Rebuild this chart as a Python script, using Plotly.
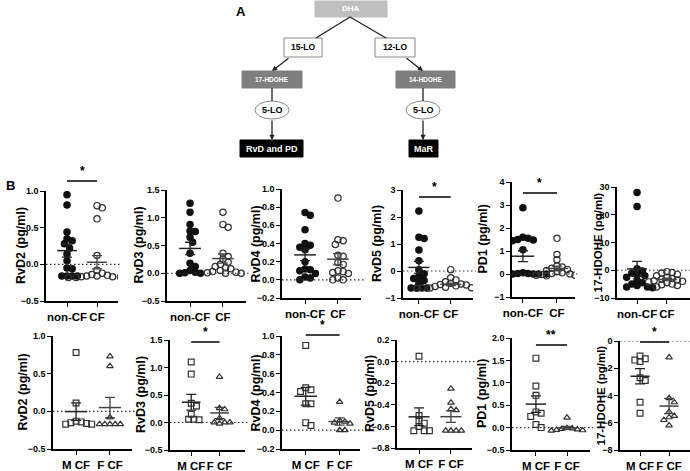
import plotly.graph_objects as go
import numpy as np

W, H = 690, 471

# ---------------- data ----------------
top_groups = ["non-CF", "CF"]
bottom_groups = ["M CF", "F CF"]

rvd2_noncf = [0.95, 0.81, 0.44, 0.35, 0.32, 0.28, 0.22, 0.14, 0.05, -0.05, -0.06, -0.16, -0.16, -0.16, -0.16]
rvd2_cf = [0.80, 0.77, 0.62, 0.12, -0.08, -0.12, -0.14, -0.15, -0.16, -0.16, -0.17, -0.17, -0.17, -0.18, -0.18, -0.18]
rvd3_noncf = [1.26, 1.10, 0.88, 0.76, 0.75, 0.65, 0.56, 0.36, 0.18, 0.12, 0.05, 0.01, 0.00, 0.00, 0.02]
rvd3_cf = [1.10, 0.88, 0.83, 0.36, 0.30, 0.25, 0.20, 0.16, 0.12, 0.10, 0.08, 0.05, 0.03, 0.02, 0.01, 0.00, 0.00]
rvd4_noncf = [0.74, 0.71, 0.55, 0.40, 0.38, 0.36, 0.33, 0.20, 0.12, 0.11, 0.10, 0.07, 0.03, 0.02, 0.00]
rvd4_cf = [0.90, 0.44, 0.43, 0.39, 0.27, 0.26, 0.19, 0.17, 0.10, 0.09, 0.08, 0.07, 0.02, 0.00, 0.00]
rvd5_noncf = [2.22, 1.25, 1.20, 0.78, 0.38, 0.05, -0.10, -0.20, -0.28, -0.35, -0.45, -0.62, -0.63, -0.63, -0.63]
rvd5_cf = [0.05, -0.25, -0.33, -0.40, -0.45, -0.48, -0.50, -0.52, -0.55, -0.57, -0.60, -0.62, -0.63, -0.63, -0.63, -0.63, -0.64]
pd1_noncf = [2.88, 1.60, 1.55, 1.50, 1.48, 1.45, 1.05, 0.05, 0.02, 0.00, 0.00, 0.00, 0.00, 0.00, 0.02]
pd1_cf = [1.55, 0.85, 0.62, 0.35, 0.30, 0.25, 0.20, 0.15, 0.10, 0.05, 0.02, 0.00, -0.02, -0.05, -0.05, -0.08, -0.10]
hdohe_noncf = [28.0, 23.0, 0.5, -0.3, -1.0, -1.5, -2.0, -2.5, -3.5, -4.5, -5.0, -5.5, -6.0, -6.0, -6.3]
hdohe_cf = [-0.5, -0.8, -1.0, -1.5, -2.0, -2.5, -3.0, -3.2, -3.5, -3.8, -4.0, -4.2, -4.5, -5.0, -5.2, -5.5, -6.0]

rvd2_m = [0.78, 0.11, -0.13, -0.14, -0.15, -0.16, -0.17, -0.17]
rvd2_f = [0.73, 0.60, -0.08, -0.17, -0.17, -0.17, -0.17, -0.17]
rvd3_m = [1.10, 0.88, 0.35, 0.30, 0.15, 0.06, 0.05, 0.06]
rvd3_f = [0.83, 0.26, 0.24, 0.08, 0.00, 0.00, -0.02, 0.00]
rvd4_m = [0.90, 0.45, 0.43, 0.41, 0.28, 0.28, 0.08, 0.05]
rvd4_f = [0.30, 0.10, 0.09, 0.08, 0.07, 0.00, 0.00]
rvd5_m = [0.05, -0.50, -0.55, -0.57, -0.60, -0.64, -0.64, -0.64]
rvd5_f = [-0.25, -0.38, -0.44, -0.45, -0.64, -0.64, -0.64, -0.64]
pd1_m = [1.55, 0.93, 0.72, 0.35, 0.32, 0.25, 0.07, 0.00]
pd1_f = [0.22, -0.01, -0.02, -0.03, -0.04, -0.05, -0.06, -0.07]
hdohe_m = [-1.1, -1.3, -1.4, -1.5, -2.7, -2.9, -4.5, -5.3]
hdohe_f = [-1.2, -4.2, -4.5, -5.2, -5.5, -5.6, -5.8, -6.2]

y_titles = ["RvD2 (pg/ml)", "RvD3 (pg/ml)", "RvD4 (pg/ml)", "RvD5 (pg/ml)", "PD1 (pg/ml)", "17-HDOHE (pg/ml)"]
top_sig = {0: "*", 3: "*", 4: "*"}
bottom_sig = {1: "*", 2: "*", 4: "**", 5: "*"}

# ---------------- layout geometry (pixels) ----------------
# left, right, top, bottom, xmin, xmax, ymin, ymax, dtick, fmt, title_x, sig_y
top_geo = [
    (46, 118, 191, 301, -0.7, 1.7, -0.5, 1.0, 0.5, ".1f", 21, 181),
    (167, 246, 190, 301, -0.7, 1.7, -0.5, 1.5, 0.5, ".1f", 138, None),
    (282, 361, 189, 298, -0.7, 1.7, -0.2, 1.0, 0.2, ".1f", 255, None),
    (403, 473, 190, 298, -0.5, 1.7, -1, 3, 1, "d", 377, 197),
    (512, 575, 182, 297, -0.32, 1.53, -1, 4, 1, "d", 482, 193),
    (617, 690, 187, 298, -0.67, 1.77, -10, 30, 10, "d", 597, None),
]
bottom_geo = [
    (53, 132, 336, 449, -0.68, 1.65, -0.5, 1.0, 0.5, ".1f", 22, None),
    (170, 245, 340, 450, -0.75, 1.9, -0.5, 1.5, 0.5, ".1f", 141, 342),
    (282, 360, 336, 449, -0.7, 1.6, -0.2, 1.0, 0.2, ".1f", 255, 335),
    (397, 472, 340, 448, -0.69, 1.66, -0.8, 0.2, 0.2, ".1f", 370, None),
    (512, 590, 338, 450, -0.77, 1.74, -0.5, 2.0, 0.5, ".1f", 482, 345),
    (620, 690, 341, 450, -0.69, 1.72, -8, 0, 2, "d", 600, 342),
]

top_data = [(rvd2_noncf, rvd2_cf), (rvd3_noncf, rvd3_cf), (rvd4_noncf, rvd4_cf),
            (rvd5_noncf, rvd5_cf), (pd1_noncf, pd1_cf), (hdohe_noncf, hdohe_cf)]
bottom_data = [(rvd2_m, rvd2_f), (rvd3_m, rvd3_f), (rvd4_m, rvd4_f),
               (rvd5_m, rvd5_f), (pd1_m, pd1_f), (hdohe_m, hdohe_f)]


def X(px):
    return px / W


def Y(py):
    return 1 - py / H


def swarm(vals, ppu_y, ppu_x, size=5.2, step=2.6):
    vals = np.asarray(vals, dtype=float)
    order = np.argsort(-vals)
    placed = []
    offs = np.zeros(len(vals))
    cands = [0.0]
    for j in range(1, 20):
        cands += [j * step, -j * step]
    for i in order:
        y = vals[i] * ppu_y
        for c in cands:
            if all((c - px) ** 2 + (y - py) ** 2 >= size ** 2 for px, py in placed):
                break
        placed.append((c, y))
        offs[i] = c / ppu_x
    return offs


fig = go.Figure()
shapes = []
annotations = []
FONT = "Liberation Sans, Arial, sans-serif"

panels = []
for k in range(6):
    panels.append((top_geo[k], top_data[k], top_groups, ["circle", "circle-open"], top_sig.get(k)))
for k in range(6):
    panels.append((bottom_geo[k], bottom_data[k], bottom_groups, ["square-open", "triangle-up-open"], bottom_sig.get(k)))

for idx, (geo, data, groups, symbols, sig) in enumerate(panels):
    (l, r, t, b, xmin, xmax, ymin, ymax, dtick, fmt, tx, sy) = geo
    n = idx + 1
    xa = "x" if n == 1 else f"x{n}"
    ya = "y" if n == 1 else f"y{n}"
    ppu_y = (b - t) / (ymax - ymin)
    ppu_x = (r - l) / (xmax - xmin)
    for g, vals in enumerate(data):
        offs = swarm(vals, ppu_y, ppu_x)
        filled = symbols[g] == "circle"
        sym = symbols[g]
        fig.add_trace(go.Scatter(
            x=g + offs, y=vals, mode="markers", xaxis=xa, yaxis=ya,
            marker=dict(symbol=sym, size=6.3 if "circle" in sym else 5.8,
                        color="#111111" if filled else "#333333",
                        line=dict(width=1.2, color="#111111" if filled else "#333333")),
            showlegend=False, hoverinfo="y"))
        arr = np.asarray(vals, dtype=float)
        mean = arr.mean()
        sem = arr.std(ddof=1) / np.sqrt(len(arr))
        col = "#222222" if g == 0 else "#444444"
        fig.add_trace(go.Scatter(
            x=[g - 0.33, g + 0.33], y=[mean, mean], mode="lines", xaxis=xa, yaxis=ya,
            line=dict(color=col, width=1.5), showlegend=False, hoverinfo="skip"))
        fig.add_trace(go.Scatter(
            x=[g], y=[mean], mode="markers", xaxis=xa, yaxis=ya,
            marker=dict(size=0.1, color=col),
            error_y=dict(type="data", array=[sem], visible=True, width=5, thickness=1.3, color=col),
            showlegend=False, hoverinfo="skip"))

    ticks = list(np.arange(ymin, ymax + dtick / 2, dtick))
    fig.layout[("xaxis" if n == 1 else f"xaxis{n}")] = dict(
        domain=[X(l), X(r)], range=[xmin, xmax], anchor=ya, automargin=False,
        showline=True, linecolor="black", linewidth=1.5, tickangle=0,
        ticks="outside", ticklen=4, tickwidth=1.2, tickcolor="black",
        tickvals=[0, 1], ticktext=groups, showgrid=False, zeroline=False,
        tickfont=dict(family=FONT, size=11.5, color="black", weight="bold"))
    fig.layout[("yaxis" if n == 1 else f"yaxis{n}")] = dict(
        domain=[Y(b), Y(t)], range=[ymin, ymax], anchor=xa, automargin=False,
        showline=True, linecolor="black", linewidth=1.5,
        ticks="outside", ticklen=4, tickwidth=1.2, tickcolor="black",
        tickvals=ticks, tickformat=fmt, showgrid=False, zeroline=False,
        tickfont=dict(family=FONT, size=9, color="black", weight="bold"))
    # dotted zero line
    shapes.append(dict(type="line", xref=f"{xa} domain", yref=ya, x0=0, x1=1.04, y0=0, y1=0,
                       line=dict(color="#333333", width=1.1, dash="1.5px,2.5px")))
    # y title
    annotations.append(dict(text=y_titles[idx % 6], x=X(tx), y=Y((t + b) / 2), xref="paper", yref="paper",
                            textangle=-90, showarrow=False, xanchor="center", yanchor="middle",
                            font=dict(family=FONT, size=12.5 if idx % 6 != 5 else 11.5, color="black",
                                      weight="bold")))
    if sig:
        shapes.append(dict(type="line", xref=xa, yref="paper", x0=0, x1=1, y0=Y(sy), y1=Y(sy),
                           line=dict(color="black", width=1.5)))
        annotations.append(dict(text=sig, x=0.5, y=Y(sy - 1), xref=xa, yref="paper", showarrow=False,
                                xanchor="center", yanchor="bottom",
                                font=dict(family=FONT, size=12, color="black", weight="bold")))

# ---------------- pathway diagram (panel A) ----------------
def box(x0, x1, y0, y1, fill, line_col, text, tcol, size):
    shapes.append(dict(type="rect", xref="paper", yref="paper", x0=X(x0), x1=X(x1), y0=Y(y1), y1=Y(y0),
                       fillcolor=fill, line=dict(color=line_col, width=1)))
    annotations.append(dict(text=text, x=X((x0 + x1) / 2), y=Y((y0 + y1) / 2), xref="paper", yref="paper",
                            showarrow=False, xanchor="center", yanchor="middle",
                            font=dict(family=FONT, size=size, color=tcol, weight="bold")))


box(315, 387, 1, 17, "#bfbfbf", "#bfbfbf", "DHA", "white", 8)
box(284, 322, 38, 57, "white", "#888888", "15-LO", "black", 8.5)
box(375, 415, 38, 57, "white", "#888888", "12-LO", "black", 8.5)
box(242, 302, 71, 88, "#7f7f7f", "#7f7f7f", "17-HDOHE", "white", 6.5)
box(396, 455, 71, 88, "#7f7f7f", "#7f7f7f", "14-HDOHE", "white", 6.5)
box(240, 303, 140, 157, "black", "black", "RvD and PD", "white", 9)
box(409, 438, 140, 157, "black", "black", "MaR", "white", 9)
for cx in (272, 423):
    shapes.append(dict(type="circle", xref="paper", yref="paper", x0=X(cx - 17), x1=X(cx + 17),
                       y0=Y(119), y1=Y(101), fillcolor="white", line=dict(color="#888888", width=1)))
    annotations.append(dict(text="5-LO", x=X(cx), y=Y(110), xref="paper", yref="paper", showarrow=False,
                            xanchor="center", yanchor="middle",
                            font=dict(family=FONT, size=9, color="black", weight="bold")))

for (x0, y0, x1, y1) in [(350, 17, 316, 38), (350, 17, 386, 38), (272, 88, 272, 101), (423, 88, 423, 101)]:
    shapes.append(dict(type="line", xref="paper", yref="paper", x0=X(x0), y0=Y(y0), x1=X(x1), y1=Y(y1),
                       line=dict(color="#222222", width=1.3)))
for (x0, y0, x1, y1) in [(290, 57, 272, 71), (405, 57, 423, 71), (272, 119, 272, 140), (423, 119, 423, 140)]:
    annotations.append(dict(x=X(x1), y=Y(y1), xref="paper", yref="paper", ax=x0 - x1, ay=y0 - y1,
                            axref="pixel", ayref="pixel", showarrow=True, arrowhead=2, arrowsize=0.8,
                            arrowwidth=1.3, arrowcolor="#222222", text=""))

annotations.append(dict(text="A", x=X(241), y=Y(12), xref="paper", yref="paper", showarrow=False,
                        xanchor="center", yanchor="middle",
                        font=dict(family=FONT, size=13, color="black", weight="bold")))
annotations.append(dict(text="B", x=X(10), y=Y(185), xref="paper", yref="paper", showarrow=False,
                        xanchor="center", yanchor="middle",
                        font=dict(family=FONT, size=13, color="black", weight="bold")))

fig.update_layout(template="none", width=W, height=H, margin=dict(l=0, r=0, t=0, b=0, pad=0),
                  paper_bgcolor="white", plot_bgcolor="rgba(0,0,0,0)",
                  shapes=shapes, annotations=annotations, showlegend=False,
                  font=dict(family=FONT))
fig.write_html("out.html", config={"displayModeBar": False},
               post_script="document.body.style.margin='0';document.body.style.overflow='hidden';")
